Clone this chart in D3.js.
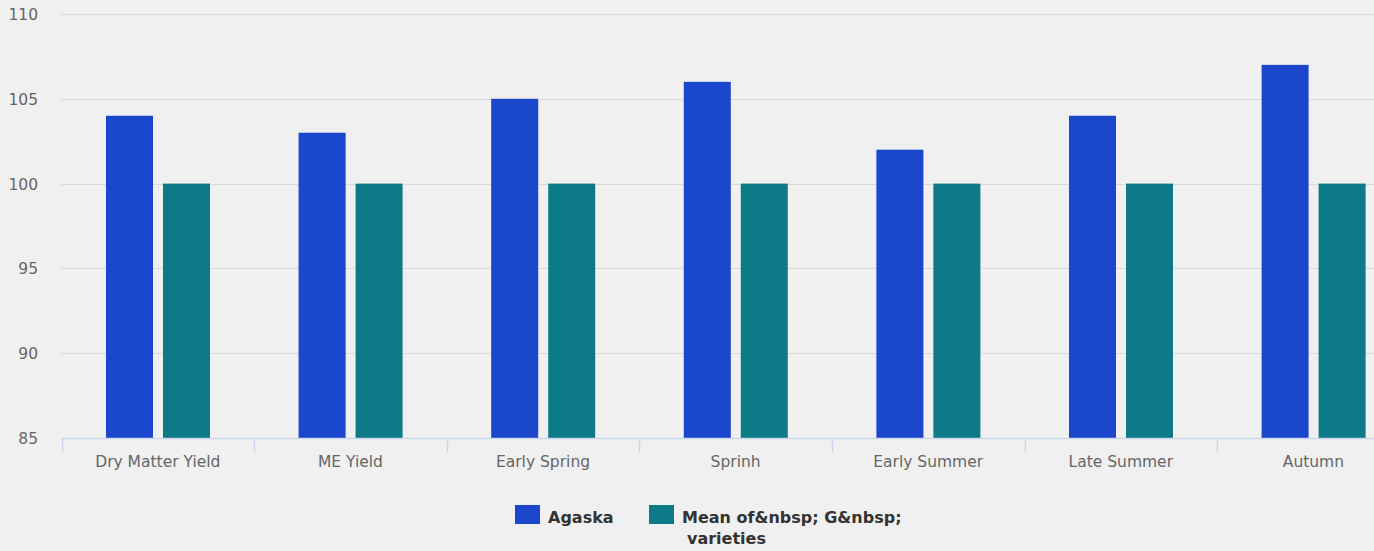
<!DOCTYPE html>
<html>
<head>
<meta charset="utf-8">
<script src="https://cdn.jsdelivr.net/npm/d3@7/dist/d3.min.js"></script>
<style>
  html, body { margin: 0; padding: 0; background: #f0f0f0; overflow: hidden; }
  svg { display: block; font-family: "DejaVu Sans", Verdana, sans-serif; }
</style>
</head>
<body>
<svg id="chart" width="1374" height="551"></svg>
<script>
// ---- data ----
const categories = ["Dry Matter Yield", "ME Yield", "Early Spring", "Sprinh", "Early Summer", "Late Summer", "Autumn"];
const seriesNames = ["Agaska", "Mean of&nbsp; G&nbsp; varieties"];
const agaska = [104, 103, 105, 106, 102, 104, 107];
const meanVarieties = [100, 100, 100, 100, 100, 100, 100];
const yTicks = [85, 90, 95, 100, 105, 110];
const colors = ["#1a47cb", "#0c7b87"];

// ---- layout ----
const W = 1374, H = 551;
const plotLeft = 61.5, step = 192.6, plotTop = 14, plotBottom = 438;
const svg = d3.select("#chart");

const x = d3.scaleBand().domain(categories).range([plotLeft, plotLeft + step * categories.length]).padding(0);
const bw = x.bandwidth();
const x1 = d3.scaleBand().domain(seriesNames).range([0.231 * bw, 0.771 * bw]).paddingInner(0.175);
const y = d3.scaleLinear().domain([85, 110]).range([plotBottom, plotTop]);

const values = [agaska, meanVarieties];

// gridlines
svg.append("g").selectAll("line").data(yTicks.filter(t => t !== 85)).join("line")
  .attr("x1", plotLeft).attr("x2", W)
  .attr("y1", d => Math.round(y(d)) + 0.5).attr("y2", d => Math.round(y(d)) + 0.5)
  .attr("stroke", "#d9d9d9").attr("stroke-width", 1);

// y axis labels
const yAxis = svg.append("g").attr("transform", "translate(38,0)")
  .call(d3.axisLeft(y).tickValues(yTicks).tickSize(0).tickPadding(0));
yAxis.select(".domain").remove();
yAxis.selectAll("text")
  .attr("font-size", 15.5).attr("fill", "#666").attr("font-family", "DejaVu Sans, sans-serif")
  .attr("dy", "0.36em").attr("text-anchor", "end");

// bars
const groups = svg.append("g").selectAll("g").data(categories).join("g")
  .attr("transform", d => `translate(${x(d)},0)`);
groups.selectAll("rect")
  .data((c, i) => seriesNames.map((s, k) => ({ s, k, v: values[k][i] })))
  .join("rect")
  .attr("x", d => x1(d.s))
  .attr("width", x1.bandwidth())
  .attr("y", d => y(d.v))
  .attr("height", d => y(85) - y(d.v))
  .attr("fill", d => colors[d.k]);

// x axis
const xAxis = svg.append("g").attr("transform", `translate(0,${plotBottom})`)
  .call(d3.axisBottom(x).tickSize(0).tickPadding(0));
xAxis.select(".domain").remove();
xAxis.selectAll("text")
  .attr("font-size", 15.5).attr("fill", "#666").attr("font-family", "DejaVu Sans, sans-serif")
  .attr("y", 29).attr("dy", 0);
svg.append("line").attr("x1", plotLeft).attr("x2", W).attr("y1", plotBottom + 0.5).attr("y2", plotBottom + 0.5)
  .attr("stroke", "#ccd6eb").attr("stroke-width", 1.5);
svg.append("g").selectAll("line").data(categories).join("line")
  .attr("x1", d => Math.round(x(d)) + 0.5).attr("x2", d => Math.round(x(d)) + 0.5)
  .attr("y1", plotBottom).attr("y2", plotBottom + 14)
  .attr("stroke", "#ccd6eb").attr("stroke-width", 1.5);

// legend
const legendItems = [
  { x: 515, lines: ["Agaska"], dx2: 0 },
  { x: 649, lines: ["Mean of&nbsp; G&nbsp;", "varieties"], dx2: 5 }
];
const lg = svg.append("g").selectAll("g").data(seriesNames).join("g")
  .attr("transform", (d, i) => `translate(${legendItems[i].x},505)`);
lg.append("rect").attr("width", 25).attr("height", 19).attr("fill", (d, i) => colors[i]);
lg.each(function (d, i) {
  const t = d3.select(this).append("text")
    .attr("font-size", 16).attr("font-weight", "bold").attr("fill", "#333")
    .attr("font-family", "DejaVu Sans, sans-serif");
  legendItems[i].lines.forEach((ln, j) => {
    t.append("tspan").attr("x", 33 + (j ? legendItems[i].dx2 : 0)).attr("y", 17.5 + j * 21).text(ln);
  });
});
</script>
</body>
</html>
